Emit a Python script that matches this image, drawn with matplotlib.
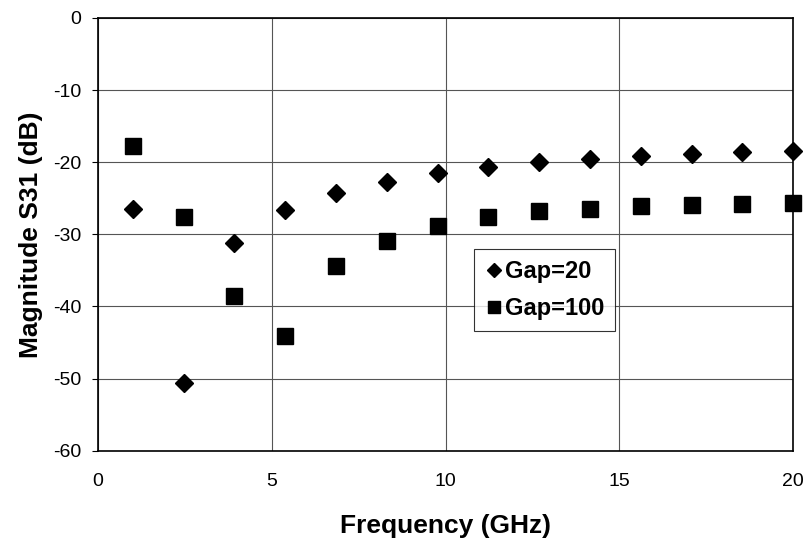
import matplotlib.pyplot as plt

# Magnitude S31 vs frequency for two gap widths
freq_ghz = [1.0, 2.46, 3.92, 5.38, 6.85, 8.31, 9.77, 11.23, 12.69, 14.15, 15.62, 17.08, 18.54, 20.0]
s31_gap20 = [-26.5, -50.6, -31.2, -26.6, -24.3, -22.7, -21.5, -20.6, -19.9, -19.5, -19.2, -18.8, -18.6, -18.4]
s31_gap100 = [-17.8, -27.6, -38.6, -44.1, -34.4, -30.9, -28.9, -27.6, -26.7, -26.5, -26.0, -25.9, -25.8, -25.7]

plt.rcParams["font.family"] = ["Liberation Sans", "DejaVu Sans"]
plt.rcParams["axes.unicode_minus"] = False

fig = plt.figure(figsize=(8.11, 5.45), dpi=100)
ax = fig.add_axes([0.121, 0.173, 0.857, 0.794])

ax.plot(freq_ghz, s31_gap20, linestyle="none", marker="D", markersize=9,
        color="black", label="Gap=20", clip_on=False, zorder=3)
ax.plot(freq_ghz, s31_gap100, linestyle="none", marker="s", markersize=11,
        color="black", label="Gap=100", clip_on=False, zorder=3)

ax.set_xlim(0, 20)
ax.set_ylim(-60, 0)
ax.set_xticks([0, 5, 10, 15, 20])
ax.set_yticks([-60, -50, -40, -30, -20, -10, 0])
ax.grid(True, color="#555555", linewidth=0.8)
ax.set_axisbelow(True)
for side in ["left", "bottom", "top", "right"]:
    ax.spines[side].set_linewidth(1.2)
ax.tick_params(axis="y", direction="out", length=4, pad=8, labelsize=14)
ax.tick_params(axis="x", length=0, pad=16, labelsize=14)

ax.set_xlabel("Frequency (GHz)", fontsize=19, fontweight="bold", labelpad=17)
ax.set_ylabel("Magnitude S31 (dB)", fontsize=19, fontweight="bold", labelpad=7)

leg = ax.legend(loc="lower left", bbox_to_anchor=(0.524, 0.25),
                prop={"weight": "bold", "size": 17}, frameon=True, fancybox=False,
                edgecolor="black", handletextpad=0.05, handlelength=0.8,
                borderpad=0.45, labelspacing=0.6, markerscale=0.8)
leg.get_frame().set_linewidth(0.8)

plt.savefig("out.png", dpi=100)
